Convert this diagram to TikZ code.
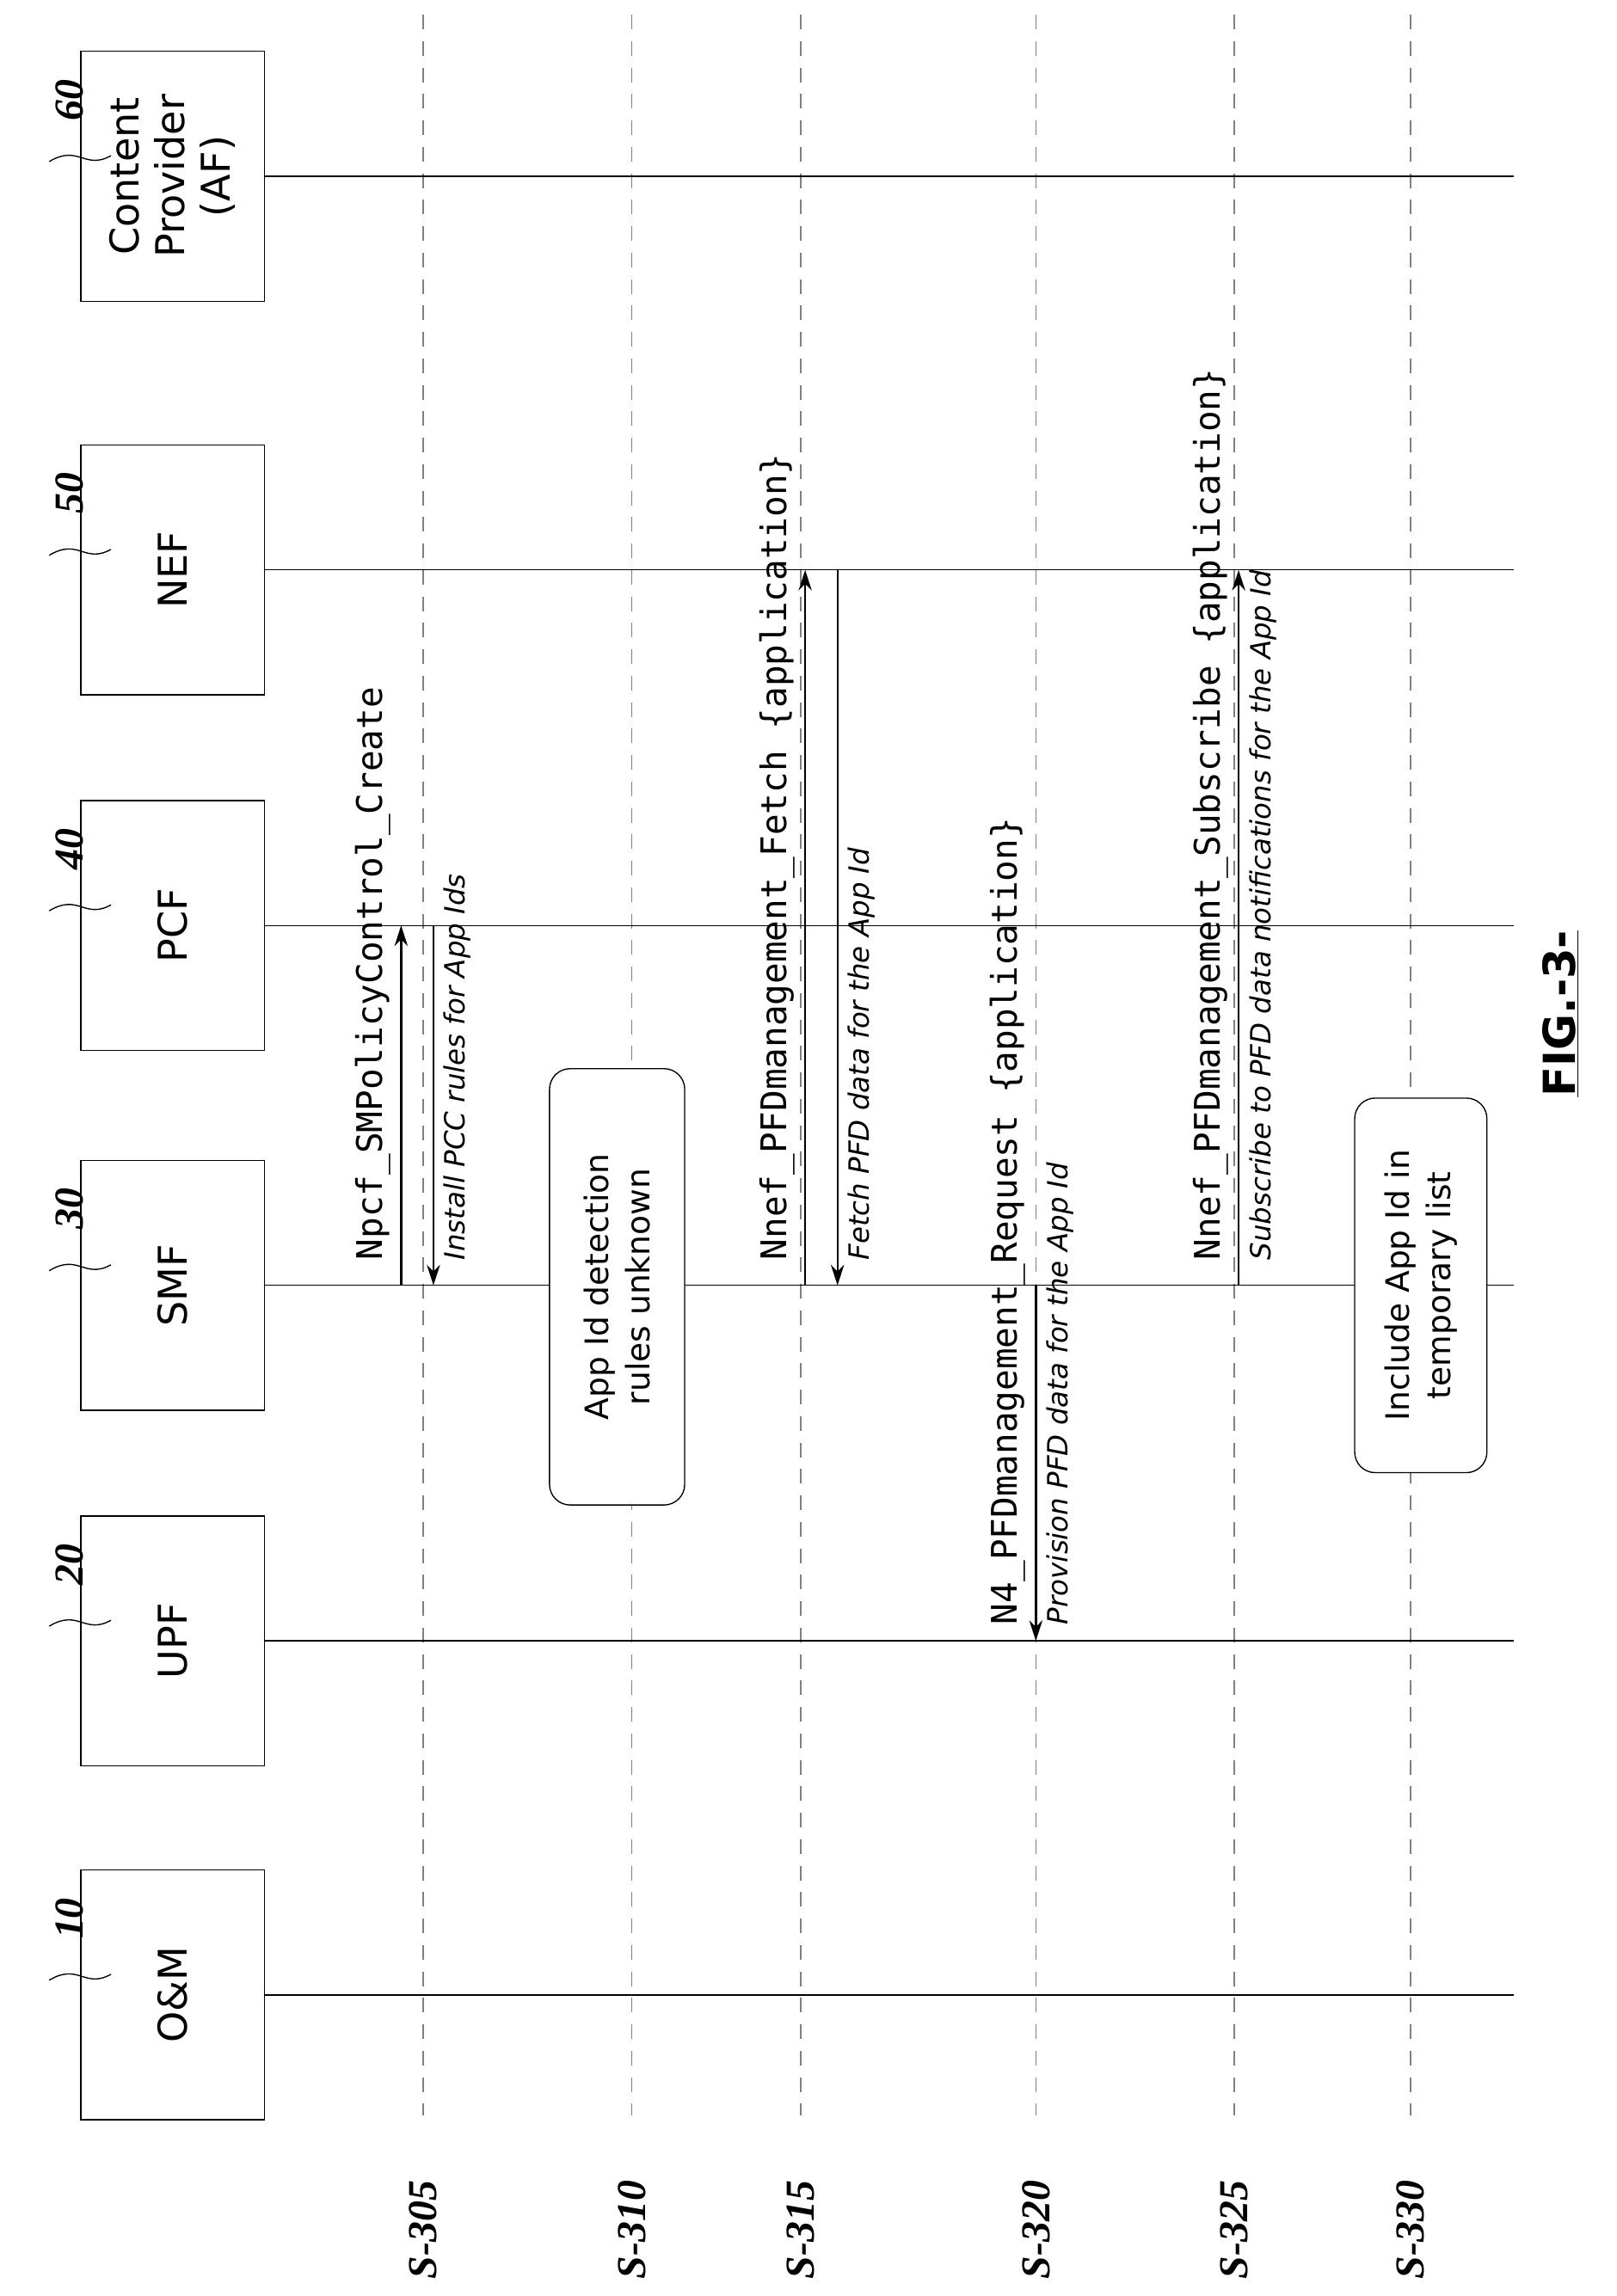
\documentclass[tikz,border=0pt]{standalone}
\usepackage{fontspec}
\setsansfont{DejaVu Sans}
\setmonofont{DejaVu Sans Mono}
\newfontfamily\reffont{Liberation Serif}
\usetikzlibrary{calc}
\usetikzlibrary{arrows.meta}

\tikzset{
 ent/.style={draw, thick, rotate=90, minimum width=170, minimum height=125, align=center, font=\sffamily\fontsize{27}{31}\selectfont},
 note/.style={draw, thick, fill=white, rounded corners=14, rotate=90, minimum width=297, minimum height=92, align=center, font=\sffamily\fontsize{22}{28}\selectfont},
 msg/.style={line width=1.4, -{Stealth[length=14,width=9]}},
 call/.style={rotate=90, inner sep=2, font=\ttfamily\fontsize{24}{26}\selectfont},
 info/.style={rotate=90, inner sep=2, font=\sffamily\itshape\fontsize{19}{22}\selectfont},
 steplbl/.style={rotate=90, font=\reffont\bfseries\itshape\fontsize{28}{32}\selectfont},
 refn/.style={rotate=90, font=\reffont\bfseries\itshape\fontsize{28}{32}\selectfont},
}

\begin{document}
\begin{tikzpicture}[x=1pt,y=1pt]
\useasboundingbox (0,0) rectangle (1100,-1563);
% steps
\foreach \x/\s in {288/305, 430/310, 545/315, 705/320, 840/325, 960/330} {
 \draw[gray, thick, dashed, dash pattern=on 10 off 8] (\x,-10) -- (\x,-1440);
 \node[steplbl] (s\s) at (\x,-1518) {S-\s};
}
% entities
\foreach \n/\y/\t/\r in {om/1358/O\&M/10, upf/1117/UPF/20, smf/875/SMF/30, pcf/630/PCF/40, nef/388/NEF/50, cp/120/{Content\\Provider\\(AF)}/60} {
 \node[ent] (\n) at (117.5,-\y) {\t};
 \draw[thick] (\n.south) -- ++(850,0);
 \node[refn] (r\n) at ($(\n.center)+(-70,52)$) {\r};
 \draw[thick] ($(\n.center)+(-42,14)$) .. controls ($(\n.center)+(-60,4)$) and ($(\n.center)+(-64,22)$) .. ($(\n.center)+(-84,10)$);
}
% S-305
\coordinate (a1) at (273,-875); \coordinate (b1) at (273,-630);
\coordinate (a2) at (295,-630); \coordinate (b2) at (295,-875);
\draw[msg] (a1) -- (b1);
\draw[msg] (a2) -- (b2);
\node[call, anchor=south west] (l1) at (268,-860) {Npcf\_SMPolicyControl\_Create};
\node[info, anchor=north west] (l2) at (300,-860) {Install PCC rules for App Ids};
% S-310
\node[note] (n1) at (420,-876) {App Id detection\\rules unknown};
% S-315
\coordinate (a3) at (548,-875); \coordinate (b3) at (548,-388);
\coordinate (a4) at (570,-388); \coordinate (b4) at (570,-875);
\draw[msg] (a3) -- (b3);
\draw[msg] (a4) -- (b4);
\node[call, anchor=south west] (l3) at (543,-860) {Nnef\_PFDmanagement\_Fetch \{application\}};
\node[info, anchor=north west] (l4) at (575,-860) {Fetch PFD data for the App Id};
% S-320
\coordinate (a5) at (705,-875); \coordinate (b5) at (705,-1117);
\draw[msg] (a5) -- (b5);
\node[call, anchor=south west] (l5) at (700,-1108) {N4\_PFDmanagement\_Request \{application\}};
\node[info, anchor=north west] (l6) at (710,-1108) {Provision PFD data for the App Id};
% S-325
\coordinate (a6) at (843,-875); \coordinate (b6) at (843,-388);
\draw[msg] (a6) -- (b6);
\node[call, anchor=south west] (l7) at (838,-860) {Nnef\_PFDmanagement\_Subscribe \{application\}};
\node[info, anchor=north west] (l8) at (848,-860) {Subscribe to PFD data notifications for the App Id};
% S-330
\node[note, minimum width=255, minimum height=90] (n2) at (967,-875) {Include App Id in\\temporary list};
\node[rotate=90, font=\sffamily\bfseries\fontsize{30}{34}\selectfont] (fig) at (1062,-690) {\underline{FIG.-3-}};
\end{tikzpicture}
\end{document}
